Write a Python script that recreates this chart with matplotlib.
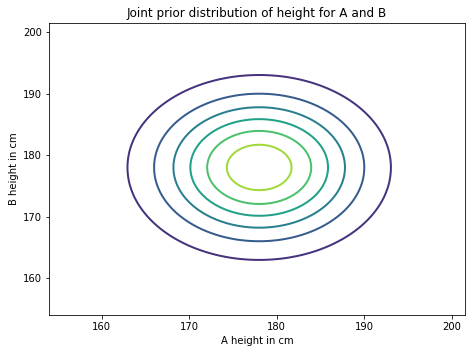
import numpy as np
import matplotlib
matplotlib.use("Agg")
import matplotlib.pyplot as plt

# prior parameters: both heights ~ Normal(178, 7.7)
MEAN = 178
STD = 7.7
LOW, HIGH, STEP = 154, 202, 0.5

qs = np.arange(LOW, HIGH, STEP)
ps = np.exp(-0.5 * ((qs - MEAN) / STD) ** 2)
ps = ps / ps.sum()
joint = np.outer(ps, ps)  # rows = B, columns = A

fig = plt.figure(figsize=(472 / 72, 352 / 72), dpi=72)
ax = fig.add_axes([49 / 472, 1 - 315 / 352, 416 / 472, 292 / 352])
ax.contour(qs, qs, joint, linewidths=2)
ax.set_xlabel("A height in cm")
ax.set_ylabel("B height in cm")
ax.set_title("Joint prior distribution of height for A and B")
fig.savefig("out.png", dpi=72)
